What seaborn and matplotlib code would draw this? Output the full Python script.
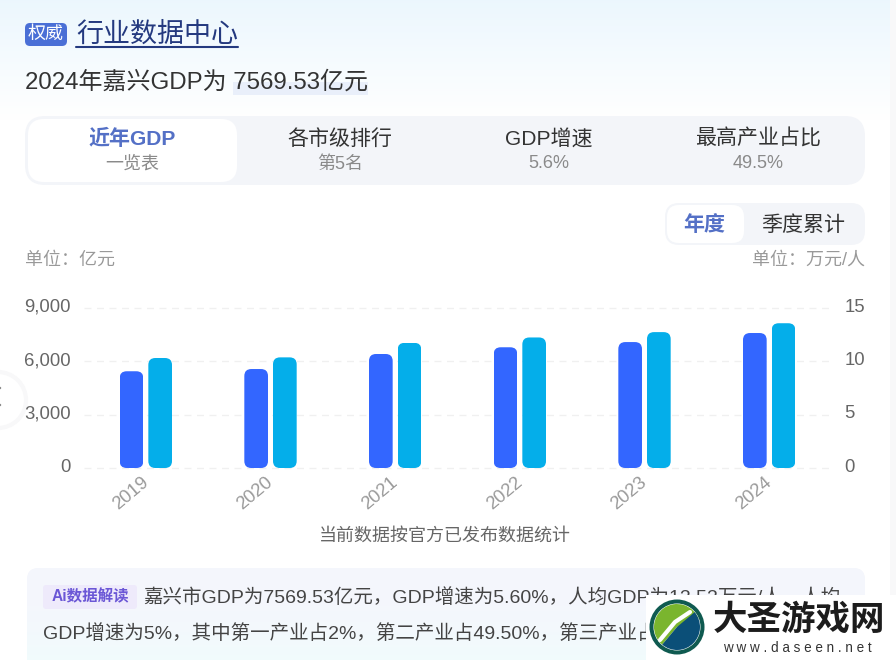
import numpy as np
import pandas as pd
import seaborn as sns
import matplotlib.pyplot as plt
from matplotlib.patches import FancyBboxPatch, Rectangle, Circle, Wedge
from matplotlib.transforms import IdentityTransform, ScaledTranslation

# Data
years = ['2019', '2020', '2021', '2022', '2023', '2024']
gdp = [5425, 5550, 6393, 6770, 7062, 7569.53]
gdp_per_capita = [10.28, 10.34, 11.70, 12.20, 12.70, 13.53]
gdp_ticks = [0, 3000, 6000, 9000]
per_capita_ticks = [0, 5, 10, 15]

sns.set_theme(style='white')
plt.rcParams['font.family'] = ['Liberation Sans', 'Noto Sans CJK SC', 'DejaVu Sans']
plt.rcParams['axes.unicode_minus'] = False

W, H = 896, 660
fig = plt.figure(figsize=(W / 100, H / 100), dpi=100)

# Page layer in pixel coordinates
bg = fig.add_axes([0, 0, 1, 1], zorder=0)
bg.set_axis_off()


def px(size):
    return size * 72 / 100


def box(x0, y0, x1, y1, color, r=8, z=2, ax=bg, **kw):
    p = FancyBboxPatch((x0, y0), x1 - x0, y1 - y0, boxstyle=f'round,pad=0,rounding_size={r}',
                       fc=color, ec='none', zorder=z, **kw)
    ax.add_patch(p)
    return p


def label(x, y, s, size, color, ha='center', weight='normal', z=5):
    bg.text(x, y + 1, s, fontsize=px(size), color=color, ha=ha, va='center', weight=weight, zorder=z)


# Top background fade
fade = np.ones((H, 1, 3))
top = np.array([0.925, 0.968, 0.995])
for i in range(120):
    fade[i, 0] = top + (1 - top) * (i / 120)
bg.imshow(fade, extent=[0, W, H, 0], aspect='auto', zorder=0)
bg.set_xlim(0, W)
bg.set_ylim(H, 0)
bg.add_patch(Rectangle((890, 0), 6, H, fc='#f8f8f9', ec='none', zorder=1))

# Left carousel button, mostly off the page
bg.add_patch(Circle((-2, 400), 28, fc='#ffffff', ec='#f8f8f9', lw=3, zorder=1))
bg.add_patch(Circle((0, 388), 1.2, fc='#888888', ec='none', zorder=2))
bg.add_patch(Circle((0, 405), 1.2, fc='#888888', ec='none', zorder=2))

# Heading
box(25, 23, 67, 46, '#4a6fd6', r=5)
label(46, 33.5, '权威', 18, '#ffffff')
label(76, 34, '行业数据中心', 27, '#24397f', ha='left')
bg.plot([76, 238], [46.5, 46.5], color='#24397f', lw=1.5, zorder=5)
bg.add_patch(Rectangle((233, 82), 135, 13, fc='#e9effa', ec='none', zorder=2))
label(25, 81, '2024年嘉兴GDP为 7569.53亿元', 24, '#333333', ha='left')

# Tabs
box(25, 116, 865, 185, '#f3f5f9', r=20)
box(28, 119, 237, 182, '#ffffff', r=16, z=3)
label(132, 138, '近年GDP', 21, '#5470c6', weight='bold')
label(132, 163, '一览表', 18, '#8a8a8a')
label(340, 138, '各市级排行', 21, '#333333')
label(340, 163, '第5名', 18, '#8a8a8a')
label(549, 138, 'GDP增速', 21, '#333333')
label(549, 163, '5.6%', 18, '#8a8a8a')
label(758, 138, '最高产业占比', 21, '#333333')
label(758, 163, '49.5%', 18, '#8a8a8a')

# Year / quarter switch
box(665, 203, 865, 245, '#f3f5f9', r=14)
box(667, 205, 744, 243, '#ffffff', r=12, z=3)
label(704, 224, '年度', 21, '#5470c6', weight='bold')
label(803, 224, '季度累计', 21, '#333333')

label(25, 259, '单位：亿元', 18, '#999999', ha='left')
label(865, 259, '单位：万元/人', 18, '#999999', ha='right')

# Chart, one axis per series, dodged against each other through the shared hue levels
x0, x1, y_top, y_bot = 83.5, 831.5, 307.5, 468
ax = fig.add_axes([x0 / W, 1 - y_bot / H, (x1 - x0) / W, (y_bot - y_top) / H], zorder=2)
ax2 = ax.twinx()
ax.patch.set_alpha(0)
ax2.patch.set_alpha(0)

levels = ['GDP', '人均GDP']
df_gdp = pd.DataFrame({'year': years, 'value': gdp, 'series': levels[0]})
df_pc = pd.DataFrame({'year': years, 'value': gdp_per_capita, 'series': levels[1]})
palette = {levels[0]: '#3366ff', levels[1]: '#04aeea'}

for a, df in [(ax, df_gdp), (ax2, df_pc)]:
    sns.barplot(data=df, x='year', y='value', hue='series', hue_order=levels, order=years,
                palette=palette, width=0.46, gap=0.174, dodge=True, legend=False,
                saturation=1, linewidth=0, ax=a, zorder=3)
    a.set_xlabel('')
    a.set_ylabel('')
    a.set_xlim(-0.5, 5.5)
    sns.despine(ax=a, left=True, right=True, top=True, bottom=True)

ax.set_ylim(0, 9000)
ax2.set_ylim(0, 15)
ax.set_yticks(gdp_ticks, [f'{v:,}' for v in gdp_ticks])
ax2.set_yticks(per_capita_ticks, [str(v) for v in per_capita_ticks])
ax.tick_params(axis='y', length=0, pad=9, labelsize=px(18.5), labelcolor='#666666')
ax2.tick_params(axis='y', length=0, pad=9.5, labelsize=px(18.5), labelcolor='#666666')
ax.tick_params(axis='x', length=0, pad=4, labelsize=px(18.5), labelcolor='#9a9a9a')
ax2.tick_params(axis='x', length=0, labelbottom=False)
plt.setp(ax.get_xticklabels(), rotation=40, ha='right', rotation_mode='anchor')

# y labels sit a little above their gridlines, x labels a little left of their bars
lift = ScaledTranslation(0, 2.5 / 100, fig.dpi_scale_trans)
for a in (ax, ax2):
    for t in a.get_yticklabels():
        t.set_transform(t.get_transform() + lift)
nudge = ScaledTranslation(-5 / 100, 0, fig.dpi_scale_trans)
for t in ax.get_xticklabels():
    t.set_transform(t.get_transform() + nudge)

ax.set_axisbelow(True)
ax.grid(axis='y', color='#f0f0f0', lw=1, ls=(0, (5, 4)), clip_on=False)
ax2.grid(False)

# Rounded bar corners
fig.canvas.draw()
for a in (ax, ax2):
    for bar in a.patches:
        if bar.get_height() == 0 or np.isnan(bar.get_height()):
            continue
        bb = bar.get_window_extent()
        clip = FancyBboxPatch((bb.x0, bb.y0), bb.width, bb.height,
                              boxstyle='round,pad=0,rounding_size=7',
                              transform=IdentityTransform())
        bar.set_clip_path(clip)

label(445, 535, '当前数据按官方已发布数据统计', 18, '#666666')

# AI summary panel
panel = np.ones((92, 1, 3))
for i in range(92):
    panel[i, 0] = np.array([0.960, 0.965, 0.992]) + np.array([-0.015, 0.022, 0.0]) * (i / 92) ** 2
box(27, 568, 865, 680, '#f4f6fd', r=12)
im = bg.imshow(panel, extent=[27, 865, 660, 568], aspect='auto', zorder=2.5)
im.set_clip_path(box(27, 568, 865, 680, 'none', r=12))
bg.set_xlim(0, W)
bg.set_ylim(H, 0)
box(43, 585, 137, 609, '#eeeafb', r=3, z=3)
label(90, 596, 'Ai数据解读', 15.5, '#6b57d6', weight='bold')
label(143, 597, '嘉兴市GDP为7569.53亿元，GDP增速为5.60%，人均GDP为13.53万元/人，人均', 19.5, '#444444', ha='left')
label(43, 633, 'GDP增速为5%，其中第一产业占2%，第二产业占49.50%，第三产业占', 19.5, '#444444', ha='left')

# Watermark
bg.add_patch(Rectangle((646, 595), 250, 65, fc='#ffffff', ec='none', zorder=8))
bg.add_patch(Circle((677, 627), 27.5, fc='#0f5a50', ec='none', zorder=9))
bg.add_patch(Circle((677, 627), 23.5, fc='#ffffff', ec='none', zorder=9))
bg.add_patch(Wedge((677, 627), 23, 130, 340, fc='#7ab52e', ec='none', zorder=9))
bg.add_patch(Wedge((677, 627), 23, -40, 130, fc='#0b4f78', ec='none', zorder=9))
bg.plot([660, 675, 690], [640, 622, 612], color='#ffffff', lw=3, zorder=10)
bg.text(799, 621, '大圣游戏网', fontsize=px(34.5), color='#1c1c1c', ha='center', va='center',
        weight='black', zorder=10)
bg.text(797, 648, 'w w w . d a s e e n . n e t', fontsize=px(13.5), color='#333333',
        ha='center', va='center', zorder=10)

fig.savefig('out.png', dpi=100)
